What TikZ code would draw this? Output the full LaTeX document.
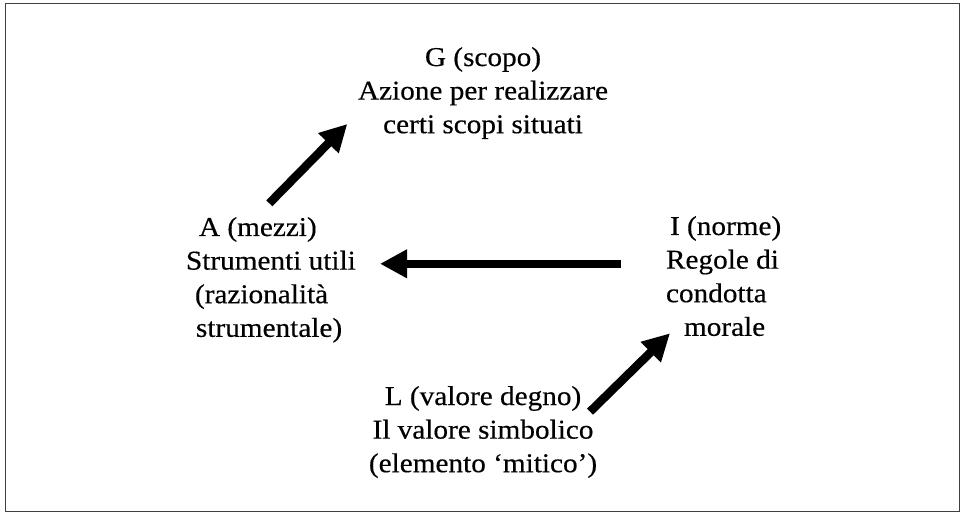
\documentclass[tikz,border=0pt]{standalone}
\usepackage{fontspec}
\setmainfont{Liberation Serif}[FakeStretch=1.075,FakeBold=0.4]
\usetikzlibrary{arrows.meta}
\tikzset{
  lbl/.style={inner sep=0pt, outer sep=0pt, font=\fontsize{27.2pt}{33.6pt}\selectfont},
  bigarrow/.style={line width=8.5pt, -{Triangle[length=27pt,width=27pt]}},
  frame/.style={draw=black!75, line width=1.3pt}
}
\begin{document}
\begin{tikzpicture}[x=1pt,y=-1pt]
\useasboundingbox (0,0) rectangle (961,513);
\draw[frame] (5.5,3.5) rectangle (959.5,511.5);
% blocks
\node[lbl, anchor=base] (nG) at (483,66)
  {\begin{tabular}[t]{@{}c@{}}G (scopo)\\Azione per realizzare\\certi scopi situati\end{tabular}};
\node[lbl, anchor=base west] (nA) at (186,236)
  {\begin{tabular}[t]{@{}l@{}}\hspace*{13pt}A (mezzi)\\Strumenti utili\\\hspace*{9pt}(razionalità\\\hspace*{10pt}strumentale)\end{tabular}};
\node[lbl, anchor=base west] (nI) at (666,235)
  {\begin{tabular}[t]{@{}l@{}}\hspace*{4pt}I (norme)\\Regole di\\condotta\\\hspace*{18pt}morale\end{tabular}};
\node[lbl, anchor=base] (nL) at (483,405)
  {\begin{tabular}[t]{@{}c@{}}L (valore degno)\\Il valore simbolico\\(elemento ‘mitico’)\end{tabular}};
% arrow end points
\coordinate (AG-s) at (269.3,203.3);
\coordinate (AG-e) at (347.3,124);
\coordinate (IA-s) at (620.7,263.8);
\coordinate (IA-e) at (380,263.8);
\coordinate (LI-s) at (590,411.7);
\coordinate (LI-e) at (670,333.3);
\draw[bigarrow] (AG-s) -- (AG-e);
\draw[bigarrow] (IA-s) -- (IA-e);
\draw[bigarrow] (LI-s) -- (LI-e);
\end{tikzpicture}
\end{document}
